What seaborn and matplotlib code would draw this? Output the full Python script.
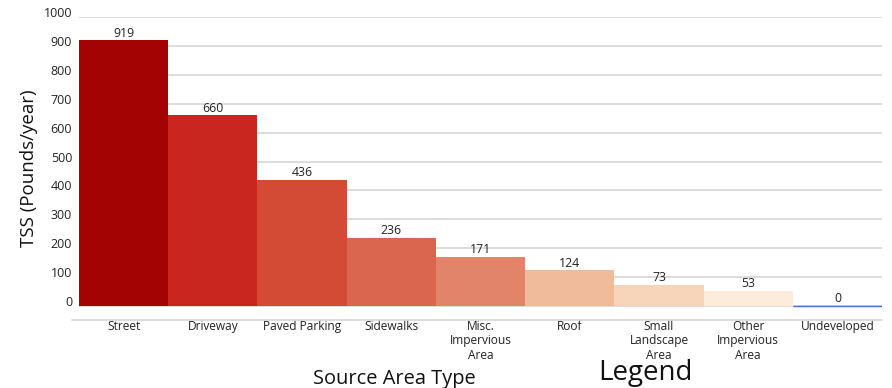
import matplotlib
matplotlib.use("Agg")
import matplotlib.pyplot as plt
import matplotlib.transforms as mtransforms
import pandas as pd
import seaborn as sns

# Data
categories = ["Street", "Driveway", "Paved Parking", "Sidewalks",
              "Misc.\nImpervious\nArea", "Roof", "Small\nLandscape\nArea",
              "Other\nImpervious\nArea", "Undeveloped"]
tss_values = [919, 660, 436, 236, 171, 124, 73, 53, 0]
bar_colors = ["#A30303", "#C9261F", "#D34A35", "#DB664F", "#E28469",
              "#F0BB9B", "#F6D5BB", "#FDECDC", "#FFFFFF"]
y_ticks = [0, 100, 200, 300, 400, 500, 600, 700, 800, 900, 1000]

df = pd.DataFrame({"category": categories, "tss": tss_values})

sns.set_theme(style="white")
plt.rcParams["font.family"] = ["Open Sans", "DejaVu Sans"]
plt.rcParams["text.color"] = "#222222"

fig = plt.figure(figsize=(8.92, 3.88), dpi=100)
ax = fig.add_axes([0.0886, 0.1753, 0.9002, 0.7809])

sns.barplot(data=df, x="category", y="tss", hue="category",
            palette=dict(zip(categories, bar_colors)), width=1.0,
            legend=False, saturation=1, linewidth=0, ax=ax, zorder=2)

# zero bar shows only as a blue baseline
ax.patches[-1].set_edgecolor("#4472C4")
ax.patches[-1].set_linewidth(1.0)

for cont in ax.containers:
    ax.bar_label(cont, fmt="%d", padding=0.5, fontsize=8.8, color="#222222")

ax.set_ylim(-48, 1000)
ax.set_xlim(-0.5, len(categories) - 0.5)
ax.set_yticks(y_ticks)
ax.yaxis.grid(True, color="#D9D9D9", linewidth=1.3, zorder=0)
ax.set_axisbelow(True)
for s in ["top", "right", "left", "bottom"]:
    ax.spines[s].set_visible(False)

# x axis line sits a bit below the bars
ax.plot([-0.009, 1.0], [0, 0], transform=ax.transAxes, color="#D9D9D9",
        linewidth=1.3, clip_on=False)

ax.tick_params(axis="y", length=0, pad=5, labelsize=9, labelcolor="#222222")
ax.tick_params(axis="x", length=0, pad=0, labelsize=8.6, labelcolor="#222222")
offset = mtransforms.ScaledTranslation(0, 5 / 100, fig.dpi_scale_trans)
for lab in ax.get_yticklabels():
    lab.set_transform(lab.get_transform() + offset)
for lab in ax.get_xticklabels():
    lab.set_linespacing(1.15)

ax.set_xlabel("Source Area Type", fontsize=14.4, color="#111111")
ax.xaxis.set_label_coords((394 - 79) / 803, -0.163)
ax.set_ylabel("TSS (Pounds/year)", fontsize=13.5, labelpad=4, color="#111111")

fig.text(598 / 892, 0.002, "Legend", fontsize=20, color="#111111",
         ha="left", va="bottom")

fig.savefig("out.png", dpi=100)
